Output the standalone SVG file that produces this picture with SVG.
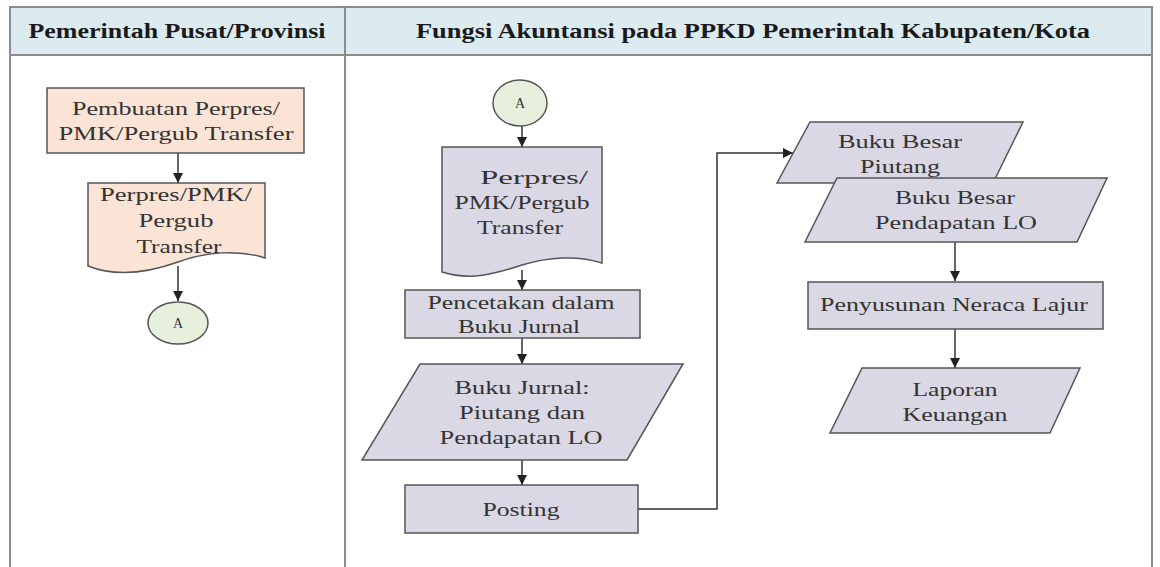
<svg xmlns="http://www.w3.org/2000/svg" width="1160" height="567" viewBox="0 0 1160 567">
<defs>
<marker id="ah" viewBox="0 0 10 10" refX="10" refY="5" markerWidth="10" markerHeight="10" markerUnits="userSpaceOnUse" orient="auto">
<path d="M0,0 L10,5 L0,10 Z" fill="#222"/>
</marker>
<style>
.lane{fill:#ffffff;stroke:#8c8c8c;stroke-width:2}
.hdr{fill:#dcebf0;stroke:#8c8c8c;stroke-width:2}
.hdrt{font-family:'Liberation Serif','Times New Roman',serif;font-weight:bold;font-size:20px;fill:#1a1a1a;text-anchor:middle}
.peach{fill:#fbe4d5;stroke:#555;stroke-width:1.5}
.lav{fill:#dad8e5;stroke:#555;stroke-width:1.5}
.grn{fill:#e7f0dc;stroke:#555;stroke-width:1.5}
.t{font-family:'Liberation Serif','Times New Roman',serif;font-size:19px;fill:#333;text-anchor:middle}
.ts{font-family:'Liberation Serif','Times New Roman',serif;font-size:14px;fill:#333;text-anchor:middle}
.c{fill:none;stroke:#333;stroke-width:1.5;marker-end:url(#ah)}
</style>
</defs>
<rect width="1160" height="567" fill="#ffffff"/>
<g id="lanes">
<rect class="lane" x="10" y="7" width="1142" height="570"/>
<line x1="345" y1="7" x2="345" y2="567" stroke="#8c8c8c" stroke-width="2"/>
<rect class="hdr" x="10" y="7" width="335" height="48"/>
<rect class="hdr" x="345" y="7" width="807" height="48"/>
<text class="hdrt" x="177" y="38" textLength="297" lengthAdjust="spacingAndGlyphs">Pemerintah Pusat/Provinsi</text>
<text class="hdrt" x="753" y="38" textLength="674" lengthAdjust="spacingAndGlyphs">Fungsi Akuntansi pada PPKD Pemerintah Kabupaten/Kota</text>
</g>
<g id="connectors">
<line class="c" x1="178" y1="153" x2="178" y2="183"/>
<line class="c" x1="178" y1="266" x2="178" y2="301"/>
<line class="c" x1="522" y1="126" x2="522" y2="147"/>
<line class="c" x1="522" y1="270" x2="522" y2="290"/>
<line class="c" x1="522" y1="338" x2="522" y2="364"/>
<line class="c" x1="522" y1="460" x2="522" y2="485"/>
<polyline class="c" points="638,509 717,509 717,153 793,153"/>
<line class="c" x1="955" y1="242" x2="955" y2="281"/>
<line class="c" x1="955" y1="329" x2="955" y2="368"/>
</g>
<g id="n-pembuatan">
<rect class="peach" x="47" y="88" width="257" height="65"/>
<text class="t" x="176" y="115" textLength="208" lengthAdjust="spacingAndGlyphs">Pembuatan Perpres/</text>
<text class="t" x="176" y="140" textLength="235" lengthAdjust="spacingAndGlyphs">PMK/Pergub Transfer</text>
</g>
<g id="n-doc-left">
<path class="peach" d="M88,183 H265 V258 C238,249 205,252 178,262 C150,272 118,278 88,266 Z"/>
<text class="t" x="176" y="201" textLength="152" lengthAdjust="spacingAndGlyphs">Perpres/PMK/</text>
<text class="t" x="176" y="227" textLength="75" lengthAdjust="spacingAndGlyphs">Pergub</text>
<text class="t" x="179" y="253" textLength="85" lengthAdjust="spacingAndGlyphs">Transfer</text>
</g>
<g id="n-a-left">
<ellipse class="grn" cx="178" cy="323" rx="30" ry="21"/>
<text class="ts" x="178" y="328">A</text>
</g>
<g id="n-a-right">
<ellipse class="grn" cx="520" cy="103" rx="27" ry="23"/>
<text class="ts" x="520" y="108">A</text>
</g>
<g id="n-doc-right">
<path class="lav" d="M442,147 H602 V263 C578,255 548,257 522,265 C495,274 470,281 442,272 Z"/>
<text class="t" x="534" y="184" textLength="108" lengthAdjust="spacingAndGlyphs">Perpres/</text>
<text class="t" x="522" y="209" textLength="135" lengthAdjust="spacingAndGlyphs">PMK/Pergub</text>
<text class="t" x="520" y="234" textLength="86" lengthAdjust="spacingAndGlyphs">Transfer</text>
</g>
<g id="n-pencetakan">
<rect class="lav" x="405" y="290" width="235" height="48"/>
<text class="t" x="521" y="309" textLength="187" lengthAdjust="spacingAndGlyphs">Pencetakan dalam</text>
<text class="t" x="519" y="333" textLength="122" lengthAdjust="spacingAndGlyphs">Buku Jurnal</text>
</g>
<g id="n-bukujurnal">
<polygon class="lav" points="420,364 683,364 627,460 362,460"/>
<text class="t" x="522" y="394" textLength="135" lengthAdjust="spacingAndGlyphs">Buku Jurnal:</text>
<text class="t" x="522" y="419" textLength="126" lengthAdjust="spacingAndGlyphs">Piutang dan</text>
<text class="t" x="521" y="444" textLength="163" lengthAdjust="spacingAndGlyphs">Pendapatan LO</text>
</g>
<g id="n-posting">
<rect class="lav" x="405" y="485" width="233" height="48"/>
<text class="t" x="521" y="516" textLength="77" lengthAdjust="spacingAndGlyphs">Posting</text>
</g>
<g id="n-bb-piutang">
<polygon class="lav" points="810,122 1023,122 993,183 777,183"/>
<text class="t" x="900" y="148" textLength="124" lengthAdjust="spacingAndGlyphs">Buku Besar</text>
<text class="t" x="900" y="173" textLength="80" lengthAdjust="spacingAndGlyphs">Piutang</text>
</g>
<g id="n-bb-pendapatan">
<polygon class="lav" points="837,178 1107,178 1077,242 805,242"/>
<text class="t" x="955" y="204" textLength="120" lengthAdjust="spacingAndGlyphs">Buku Besar</text>
<text class="t" x="956" y="229" textLength="162" lengthAdjust="spacingAndGlyphs">Pendapatan LO</text>
</g>
<g id="n-neraca">
<rect class="lav" x="808" y="282" width="295" height="47"/>
<text class="t" x="954" y="311" textLength="268" lengthAdjust="spacingAndGlyphs">Penyusunan Neraca Lajur</text>
</g>
<g id="n-laporan">
<polygon class="lav" points="862,368 1080,368 1050,433 830,433"/>
<text class="t" x="955" y="396" textLength="85" lengthAdjust="spacingAndGlyphs">Laporan</text>
<text class="t" x="955" y="421" textLength="105" lengthAdjust="spacingAndGlyphs">Keuangan</text>
</g>
</svg>
